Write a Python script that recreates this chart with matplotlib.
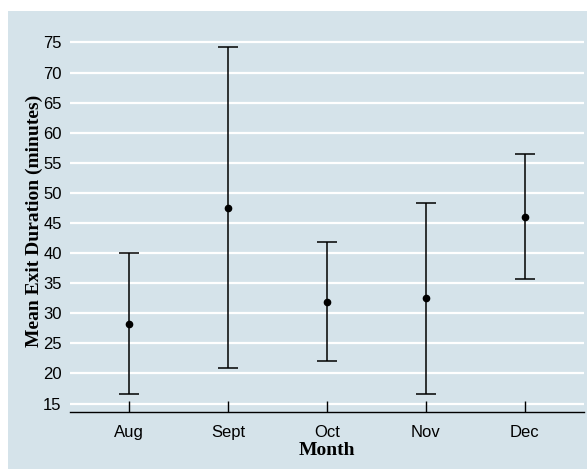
import numpy as np
import matplotlib
matplotlib.use("Agg")
from matplotlib import pyplot as plt
from matplotlib.patches import Rectangle

# monthly mean exit duration with interval bounds (minutes)
months = ["Aug", "Sept", "Oct", "Nov", "Dec"]
mean_exit = [28.3, 47.5, 31.9, 32.5, 46.0]
lower = [16.6, 20.9, 22.0, 16.6, 35.7]
upper = [40.0, 74.3, 41.8, 48.4, 56.4]

yticks = np.arange(15, 80, 5)

bg = "#d5e3ea"
W, H = 587, 469

fig = plt.figure(figsize=(W/100, H/100), dpi=100)
fig.patch.set_facecolor("white")

# light panel behind the plot area
fig.patches.append(Rectangle((8/W, 0), 1 - 8/W, 1 - 11/H, transform=fig.transFigure,
                             facecolor=bg, edgecolor="none", zorder=-5))

ax = fig.add_axes([70/W, (H-412)/H, (584-70)/W, (412-30.4)/H])
ax.set_zorder(2)
ax.set_facecolor(bg)

x = np.arange(1, len(months) + 1)
mean_arr = np.array(mean_exit)
err = [mean_arr - np.array(lower), np.array(upper) - mean_arr]

ax.errorbar(x, mean_arr, yerr=err, fmt="o", color="black", ms=4.5,
            elinewidth=1.1, capsize=7.5, capthick=1.1, zorder=3)

ax.set_xlim(0.4, 5.6)
ax.set_ylim(13.6, 77)
ax.set_yticks(yticks)
ax.set_xticks(x)
ax.set_xticklabels(months)

ax.yaxis.grid(True, color="white", linewidth=1.6)
ax.set_axisbelow(True)
ax.xaxis.set_zorder(1)  # keep x ticks above the white grid

for s in ["top", "right", "left"]:
    ax.spines[s].set_visible(False)
ax.spines["bottom"].set_linewidth(1.0)

ax.tick_params(axis="y", length=0, labelsize=12, pad=6)
ax.tick_params(axis="x", direction="in", length=8, width=1.0, labelsize=12, pad=9)
for lab in ax.get_xticklabels() + ax.get_yticklabels():
    lab.set_fontfamily("Liberation Sans")

ax.set_xlabel("Month", fontfamily="Liberation Serif", fontweight="bold",
              fontsize=14, labelpad=2)
ax.set_ylabel("Mean Exit Duration (minutes)", fontfamily="Liberation Serif",
              fontweight="bold", fontsize=14, labelpad=0)

fig.savefig("out.png", dpi=100)
